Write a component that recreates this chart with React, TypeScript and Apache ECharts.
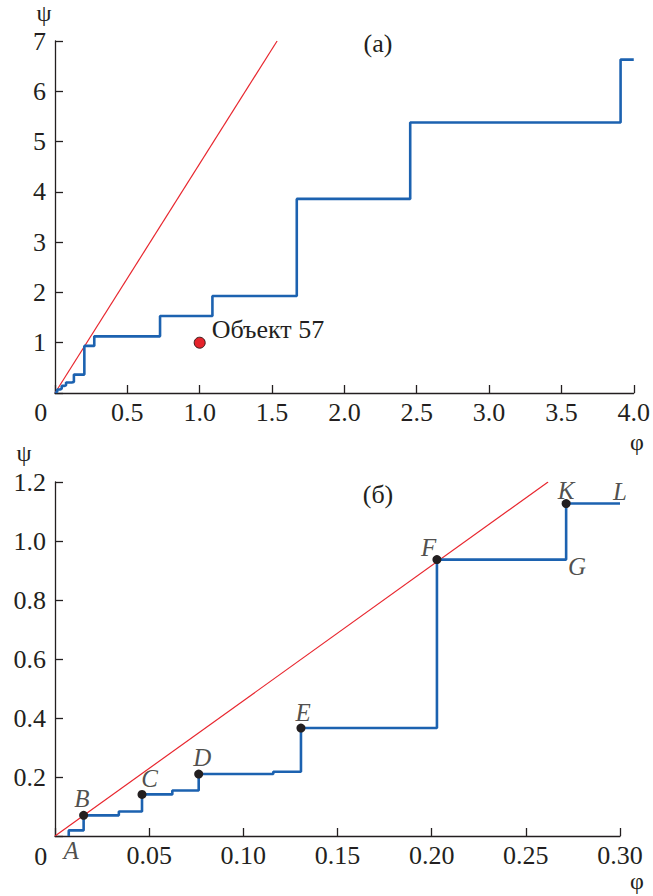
import React, { useEffect, useRef } from 'react';
import * as echarts from 'echarts';

// Fine staircase (shared by both panels), φ and ψ of each step corner
const fineStepPhi = [0.0073, 0.0073, 0.0152, 0.0339, 0.0462, 0.0623, 0.0763, 0.1159, 0.1306, 0.2028, 0.2714];
const fineStepPsi = [0, 0.019, 0.070, 0.083, 0.141, 0.154, 0.210, 0.218, 0.366, 0.937, 1.127];
// Coarse steps continuing in panel (a)
const coarseStepPhi = [0.726, 1.088, 1.671, 2.455, 3.909, 4.0];
const coarseStepPsi = [1.53, 1.93, 3.86, 5.38, 6.63, 6.63];
// End of the staircase in panel (б)
const bottomEndPhi = 0.30;

// Red reference line ends
const redTopPhi = [0, 1.535];
const redTopPsi = [0, 7];
const redBottomPhi = [0, 0.2618];
const redBottomPsi = [0, 1.2];

// Object 57
const objectName = 'Объект 57';
const objectPhi = 1.0;
const objectPsi = 1.0;

// Named points in panel (б)
const pointNames = ['A', 'B', 'C', 'D', 'E', 'F', 'G', 'K', 'L'];
const pointPhi = [0.0073, 0.0152, 0.0462, 0.0763, 0.1306, 0.2028, 0.2714, 0.2714, 0.30];
const pointPsi = [0, 0.070, 0.141, 0.210, 0.366, 0.937, 0.937, 1.127, 1.127];
const dottedPoints = ['B', 'C', 'D', 'E', 'F', 'K'];

// Axis ticks
const topXTicks = { min: 0, max: 4.0, interval: 0.5 };
const topYTicks = { min: 0, max: 7, interval: 1 };
const bottomXTicks = { min: 0, max: 0.30, interval: 0.05 };
const bottomYTicks = { min: 0, max: 1.2, interval: 0.2 };

const FONT = 'Liberation Serif';
const INK = '#231f20';
const BLUE = '#1c62b0';
const RED = '#e8262e';

const labelOffsets: Record<string, number[]> = {
  A: [2.4, 14.3],
  B: [-1.7, -16.7],
  C: [7.7, -15.7],
  D: [3.7, -16.4],
  E: [2.3, -16],
  F: [-8.4, -12],
  G: [11, 7.4],
  K: [0, -12.6],
  L: [0, -11.6],
};

export default function App() {
  const ref = useRef<HTMLDivElement>(null);
  useEffect(() => {
    if (!ref.current) return;
    const chart = echarts.init(ref.current, null, { renderer: 'svg' });

    const topStep = [
      ...fineStepPhi.map((p, i) => [p, fineStepPsi[i]]),
      ...coarseStepPhi.map((p, i) => [p, coarseStepPsi[i]]),
    ];
    const bottomStep = [
      ...fineStepPhi.map((p, i) => [p, fineStepPsi[i]]),
      [bottomEndPhi, fineStepPsi[fineStepPsi.length - 1]],
    ];

    const axisCommon = {
      axisLine: { onZero: false, lineStyle: { color: INK, width: 1.3 } },
      axisTick: { inside: true, length: 8, lineStyle: { color: INK, width: 1.3 } },
      splitLine: { show: false },
    };
    const xLabel = { color: INK, fontFamily: FONT, fontSize: 26, margin: 6 };
    const yLabel = { color: INK, fontFamily: FONT, fontSize: 26, margin: 9 };

    const textStyle = (text: string, x: number, y: number, extra: any = {}) => ({
      type: 'text',
      x,
      y,
      silent: true,
      style: {
        text,
        fill: INK,
        fontFamily: FONT,
        fontSize: 26,
        align: 'center',
        verticalAlign: 'middle',
        ...extra,
      },
    });

    chart.setOption({
      animation: false,
      backgroundColor: '#ffffff',
      textStyle: { fontFamily: FONT },
      grid: [
        { left: 55, right: 19, top: 41, height: 352 },
        { left: 55, right: 33, top: 482, height: 354 },
      ],
      xAxis: [
        {
          gridIndex: 0,
          type: 'value',
          ...topXTicks,
          ...axisCommon,
          axisLabel: {
            ...xLabel,
            formatter: (v: number) => (v === 0 ? '' : v.toFixed(1)),
          },
        },
        {
          gridIndex: 1,
          type: 'value',
          ...bottomXTicks,
          ...axisCommon,
          axisLabel: {
            ...xLabel,
            formatter: (v: number) => (v === 0 ? '' : v.toFixed(2)),
          },
        },
      ],
      yAxis: [
        {
          gridIndex: 0,
          type: 'value',
          ...topYTicks,
          ...axisCommon,
          axisLabel: {
            ...yLabel,
            formatter: (v: number) => (v === 0 ? '' : String(Math.round(v))),
          },
        },
        {
          gridIndex: 1,
          type: 'value',
          ...bottomYTicks,
          ...axisCommon,
          axisLabel: {
            ...yLabel,
            formatter: (v: number) => (v === 0 ? '' : v.toFixed(1)),
          },
        },
      ],
      series: [
        {
          type: 'line',
          xAxisIndex: 0,
          yAxisIndex: 0,
          data: redTopPhi.map((p, i) => [p, redTopPsi[i]]),
          showSymbol: false,
          lineStyle: { color: RED, width: 1.2 },
          silent: true,
          z: 2,
        },
        {
          type: 'line',
          xAxisIndex: 0,
          yAxisIndex: 0,
          step: 'end',
          data: topStep,
          showSymbol: false,
          lineStyle: { color: BLUE, width: 2.6 },
          silent: true,
          z: 3,
        },
        {
          type: 'scatter',
          xAxisIndex: 0,
          yAxisIndex: 0,
          data: [[objectPhi, objectPsi]],
          symbolSize: 11,
          itemStyle: { color: '#e5232b', borderColor: '#3a1a1a', borderWidth: 1, opacity: 1 },
          label: {
            show: true,
            position: 'right',
            distance: 6,
            offset: [0, -13],
            formatter: objectName,
            color: INK,
            fontFamily: FONT,
            fontSize: 26,
          },
          silent: true,
          z: 4,
        },
        {
          type: 'line',
          xAxisIndex: 1,
          yAxisIndex: 1,
          data: redBottomPhi.map((p, i) => [p, redBottomPsi[i]]),
          showSymbol: false,
          lineStyle: { color: RED, width: 1.2 },
          silent: true,
          z: 2,
        },
        {
          type: 'line',
          xAxisIndex: 1,
          yAxisIndex: 1,
          step: 'end',
          data: bottomStep,
          showSymbol: false,
          lineStyle: { color: BLUE, width: 2.6 },
          silent: true,
          z: 3,
        },
        {
          type: 'scatter',
          xAxisIndex: 1,
          yAxisIndex: 1,
          symbolSize: 9,
          itemStyle: { color: '#231f20', opacity: 1 },
          data: pointNames
            .map((n, i) => ({ n, v: [pointPhi[i], pointPsi[i]] }))
            .filter((d) => dottedPoints.includes(d.n))
            .map((d) => d.v),
          silent: true,
          z: 4,
        },
        {
          type: 'scatter',
          xAxisIndex: 1,
          yAxisIndex: 1,
          symbolSize: 1,
          clip: false,
          itemStyle: { color: 'rgba(0,0,0,0)' },
          data: pointNames.map((n, i) => ({
            name: n,
            value: [pointPhi[i], pointPsi[i]],
            label: { offset: labelOffsets[n] },
          })),
          label: {
            show: true,
            position: 'inside',
            formatter: '{b}',
            color: INK,
            fontFamily: FONT,
            fontStyle: 'italic',
            fontSize: 25,
            align: 'center',
            verticalAlign: 'middle',
          },
          silent: true,
          z: 5,
        },
      ],
      graphic: [
        textStyle('0', 40.7, 412),
        textStyle('0', 40.7, 856),
        textStyle('ψ', 44, 13, { fontSize: 24 }),
        textStyle('ψ', 24, 453, { fontSize: 24 }),
        textStyle('φ', 637, 442, { fontSize: 24 }),
        textStyle('φ', 637, 881, { fontSize: 24 }),
        textStyle('(а)', 378, 43),
        textStyle('(б)', 378, 494),
      ],
    });
    return () => chart.dispose();
  }, []);
  return (
    <div
      ref={ref}
      style={{ position: 'absolute', left: 0, top: 0, width: 653, height: 896 }}
    />
  );
}
